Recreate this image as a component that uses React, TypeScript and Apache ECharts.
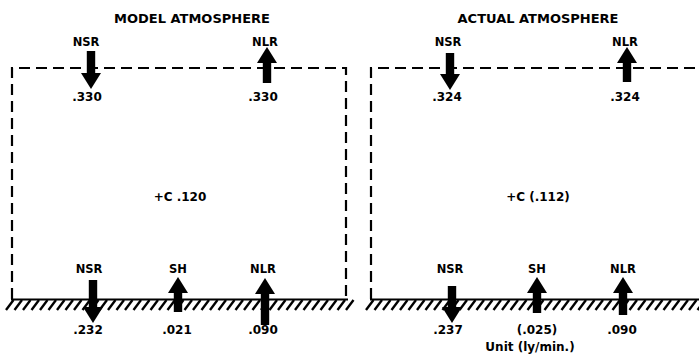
import React, { useEffect, useRef } from "react";
import * as echarts from "echarts";

const W = 699;
const H = 362;

// ---- data ----
const panelTitles = ["MODEL ATMOSPHERE", "ACTUAL ATMOSPHERE"];
const topFluxNames = ["NSR", "NLR"];
const topFluxDirs = ["down", "up"];
const modelTopValues = [".330", ".330"];
const actualTopValues = [".324", ".324"];
const surfaceFluxNames = ["NSR", "SH", "NLR"];
const surfaceFluxDirs = ["down", "up", "up"];
const modelSurfaceValues = [".232", ".021", ".090"];
const actualSurfaceValues = [".237", "(.025)", ".090"];
const storageLabels = ["+C .120", "+C (.112)"];
const unitLabel = "Unit (ly/min.)";

// ---- layout (pixel coordinates of the drawing frame) ----
const BOX_TOP = 68;
const GROUND = 299;
const PANELS = [
  {
    titleX: 192,
    boxLeft: 12,
    boxRight: 346,
    hatchFrom: 6,
    hatchTo: 348,
    top: [
      [91, 51, 89],
      [267, 83, 47],
    ],
    bot: [
      [93, 280, 323],
      [178, 312, 277],
      [265, 325, 278],
    ],
    topNameX: [86, 265],
    topValX: [87, 263],
    botNameX: [89, 178, 263],
    botValX: [88, 177, 263],
    storageX: 180,
    topValues: modelTopValues,
    botValues: modelSurfaceValues,
  },
  {
    titleX: 538,
    boxLeft: 371,
    boxRight: 730,
    hatchFrom: 366,
    hatchTo: 705,
    top: [
      [450, 53, 90],
      [627, 82, 47],
    ],
    bot: [
      [452, 286, 323],
      [537, 313, 277],
      [623, 315, 277],
    ],
    topNameX: [448, 625],
    topValX: [447, 625],
    botNameX: [450, 537, 623],
    botValX: [448, 537, 622],
    storageX: 538,
    topValues: actualTopValues,
    botValues: actualSurfaceValues,
  },
];

const FONT = "DejaVu Sans";

type Lbl = { x: number; y: number; text: string; size: number; weight: string };

export default function App() {
  const ref = useRef<HTMLDivElement>(null);

  useEffect(() => {
    if (!ref.current) return;
    const chart = echarts.init(ref.current, null, { renderer: "svg" });

    const arrows: { x: number; tail: number; tip: number }[] = [];
    const labels: Lbl[] = [];
    const graphics: any[] = [];

    PANELS.forEach((p, pi) => {
      labels.push({ x: p.titleX, y: 18, text: panelTitles[pi], size: 13, weight: "bold" });
      topFluxNames.forEach((n, i) => {
        const a = p.top[i];
        void topFluxDirs[i];
        arrows.push({ x: a[0], tail: a[1], tip: a[2] });
        labels.push({ x: p.topNameX[i], y: 42, text: n, size: 11.5, weight: "bold" });
        labels.push({ x: p.topValX[i], y: 97, text: p.topValues[i], size: 12, weight: "bold" });
      });
      surfaceFluxNames.forEach((n, i) => {
        const a = p.bot[i];
        void surfaceFluxDirs[i];
        arrows.push({ x: a[0], tail: a[1], tip: a[2] });
        labels.push({ x: p.botNameX[i], y: 269, text: n, size: 11.5, weight: "bold" });
        labels.push({ x: p.botValX[i], y: 330, text: p.botValues[i], size: 12, weight: "bold" });
      });
      labels.push({ x: p.storageX, y: 197, text: storageLabels[pi], size: 12, weight: "bold" });

      // dashed atmosphere box
      graphics.push({
        type: "polyline",
        z: 1,
        shape: {
          points: [
            [p.boxLeft, GROUND],
            [p.boxLeft, BOX_TOP],
            [p.boxRight, BOX_TOP],
            [p.boxRight, GROUND],
          ],
        },
        style: { stroke: "#000", lineWidth: 2.2, lineDash: [11, 6], fill: null },
      });
      // ground line
      graphics.push({
        type: "line",
        z: 1,
        shape: { x1: p.boxLeft - 1, y1: GROUND + 0.5, x2: p.hatchTo, y2: GROUND + 0.5 },
        style: { stroke: "#000", lineWidth: 2.2 },
      });
      // hatch
      for (let x = p.hatchFrom; x < p.hatchTo; x += 8.5) {
        graphics.push({
          type: "line",
          z: 1,
          shape: { x1: x, y1: GROUND + 11, x2: x + 7.5, y2: GROUND + 1 },
          style: { stroke: "#000", lineWidth: 2.4 },
        });
      }
    });
    labels.push({ x: 530, y: 347, text: unitLabel, size: 12, weight: "bold" });

    const option: any = {
      animation: false,
      backgroundColor: "#fff",
      grid: { left: 0, right: 0, top: 0, bottom: 0 },
      xAxis: { type: "value", min: 0, max: W, show: false },
      yAxis: { type: "value", min: 0, max: H, inverse: true, show: false },
      graphic: graphics,
      series: [
        {
          type: "custom",
          z: 5,
          data: arrows.map((a) => [a.x, a.tail, a.tip]),
          renderItem: (params: any, api: any) => {
            const x = api.value(0);
            const tail = api.coord([x, api.value(1)]);
            const tip = api.coord([x, api.value(2)]);
            const dir = tip[1] > tail[1] ? 1 : -1;
            const headLen = 16;
            const headW = 10;
            const shaftW = 4.2;
            const base = tip[1] - dir * headLen;
            const cx = tail[0];
            return {
              type: "polygon",
              shape: {
                points: [
                  [cx - shaftW, tail[1]],
                  [cx + shaftW, tail[1]],
                  [cx + shaftW, base],
                  [cx + headW, base],
                  [cx, tip[1]],
                  [cx - headW, base],
                  [cx - shaftW, base],
                ],
              },
              style: { fill: "#000" },
            };
          },
        },
        {
          type: "custom",
          z: 6,
          data: labels.map((l) => [l.x, l.y]),
          renderItem: (params: any, api: any) => {
            const l = labels[params.dataIndex];
            const c = api.coord([api.value(0), api.value(1)]);
            return {
              type: "text",
              x: c[0],
              y: c[1],
              style: {
                text: l.text,
                fill: "#000",
                font: `${l.weight} ${l.size}px "${FONT}"`,
                align: "center",
                verticalAlign: "middle",
              },
            };
          },
        },
      ],
    };

    chart.setOption(option);
    return () => chart.dispose();
  }, []);

  return (
    <div
      ref={ref}
      style={{ position: "fixed", left: 0, top: 0, width: W, height: H, background: "#fff" }}
    />
  );
}
